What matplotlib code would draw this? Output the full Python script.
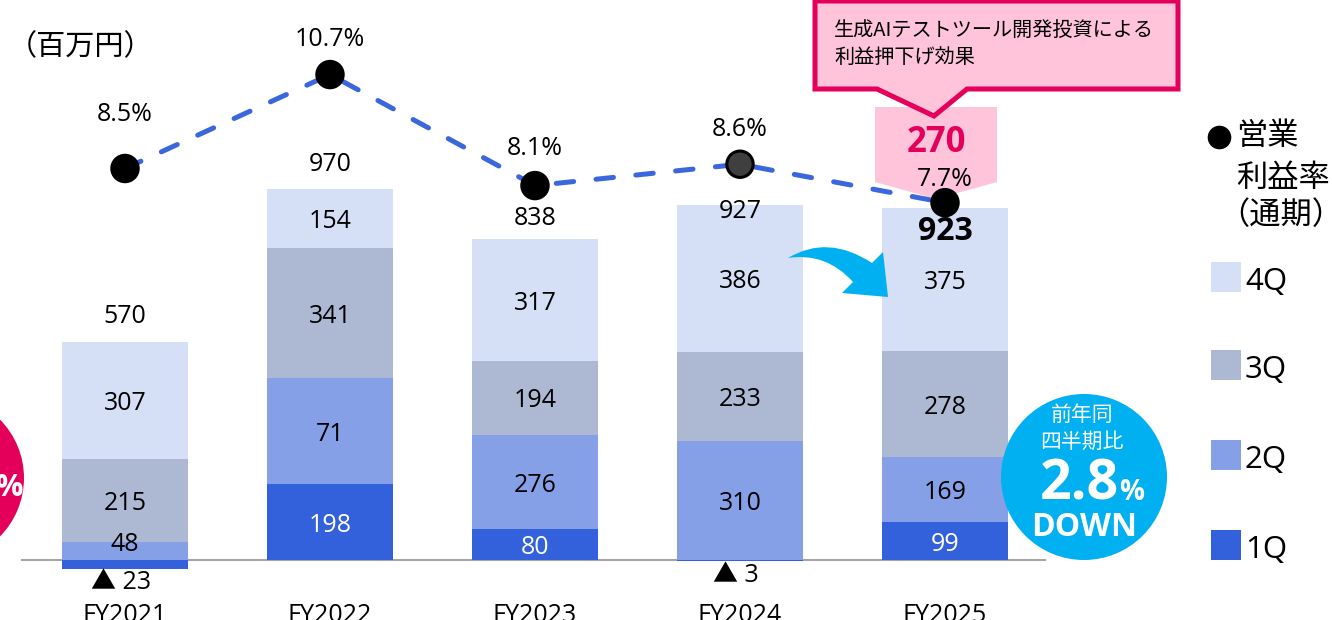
import matplotlib
matplotlib.use('Agg')
import matplotlib.pyplot as plt
from matplotlib.patches import Polygon, Circle, PathPatch, Rectangle
from matplotlib.path import Path
import numpy as np

plt.rcParams['font.family'] = ['Open Sans', 'Noto Sans CJK JP', 'DejaVu Sans']

# ---------------- data ----------------
years = ['FY2021', 'FY2022', 'FY2023', 'FY2024', 'FY2025']
q1 = [-23, 198, 80, -3, 99]
q2 = [48, 277, 247, 310, 169]
q3 = [215, 341, 194, 233, 278]
q4 = [307, 154, 317, 386, 375]
q1_labels = ['▲ 23', '198', '80', '▲ 3', '99']
q2_labels = ['48', '71', '276', '310', '169']
q3_labels = ['215', '341', '194', '233', '278']
q4_labels = ['307', '154', '317', '386', '375']
total_labels = ['570', '970', '838', '927', '923']
margin = [8.5, 10.7, 8.1, 8.6, 7.7]
margin_labels = ['8.5%', '10.7%', '8.1%', '8.6%', '7.7%']
legend_labels = ['4Q', '3Q', '2Q', '1Q']
unit_label = '（百万円）'
callout_text = '生成AIテストツール開発投資による\n利益押下げ効果'
callout_value = '270'
badge_lines = ['前年同', '四半期比']
badge_value = '2.8'
margin_legend = ['営業', '利益率', '（通期）']

# ---------------- style ----------------
C1, C2, C3, C4 = '#3361DC', '#86A0E8', '#ADB9D3', '#D5DFF6'
LINE_C = '#3A67DC'
PINK_FILL = '#FFC4DA'
CRIMSON = '#E4005A'
CYAN = '#00B0F0'
CJK = ['Noto Sans CJK JP', 'DejaVu Sans']

W, H = 1332, 620
PX = 0.3825          # pixels per unit (million yen)
PXM = 42.7           # pixels per % of margin
FS = 18
DN = 3 / PX          # small downward nudge for numeric labels (data units)

fig = plt.figure(figsize=(W / 100, H / 100), dpi=100)
ax = fig.add_axes([0, 0, 1, 1])
ax.set_xlim(-125 / 205, (W - 125) / 205)
ax.set_ylim(-60 / PX, 560 / PX)
ax.axis('off')
ax.set_zorder(1)

x = np.arange(len(years))
bw = 0.61
b2 = np.maximum(np.array(q1), 0)
b3 = b2 + np.array(q2)
b4 = b3 + np.array(q3)
top = b4 + np.array(q4)

ax.axhline(0, xmin=22 / W, xmax=1045 / W, color='#A6A6A6', lw=1.5, zorder=1)
ax.bar(x, q1, bw, color=C1, zorder=2)
ax.bar(x, q2, bw, bottom=b2, color=C2, zorder=2)
ax.bar(x, q3, bw, bottom=b3, color=C3, zorder=2)
ax.bar(x, q4, bw, bottom=b4, color=C4, zorder=2)

for i in range(len(years)):
    # 1Q
    if q1[i] < 0:
        ax.text(i - 4 / 205, q1[i] - 14 / PX, q1_labels[i], ha='center', va='center',
                fontsize=FS, color='black', zorder=4)
    else:
        ax.text(i, q1[i] / 2 - DN, q1_labels[i], ha='center', va='center',
                fontsize=FS, color='white', zorder=4)
    # 2Q
    h = q2[i]
    yy = b2[i] + h if h * PX < 25 else b2[i] + h / 2
    ax.text(i, yy - DN, q2_labels[i], ha='center', va='center', fontsize=FS, zorder=4)
    ax.text(i, b3[i] + q3[i] / 2 - DN, q3_labels[i], ha='center', va='center',
            fontsize=FS, zorder=4)
    ax.text(i, b4[i] + q4[i] / 2 - DN, q4_labels[i], ha='center', va='center',
            fontsize=FS, zorder=4)
    ax.text(i, (560 - 615) / PX, years[i], ha='center', va='center', fontsize=FS, zorder=4)

total_dy = [28, 27, 24, -4, -21]
for i in range(len(years)):
    bold = (i == len(years) - 1)
    ax.text(i, top[i] + total_dy[i] / PX - DN, total_labels[i], ha='center', va='center',
            fontsize=23 if bold else FS, fontweight='bold' if bold else 'normal', zorder=4)

# ---------------- under-overlay (pink block) ----------------
ovu = fig.add_axes([0, 0, 1, 1])
ovu.set_xlim(0, W); ovu.set_ylim(H, 0); ovu.axis('off')
ovu.set_zorder(2)
ovu.add_patch(Polygon([(875, 107), (997, 107), (997, 182), (936, 199), (875, 182)],
                      closed=True, facecolor=PINK_FILL, edgecolor='none'))
ovu.text(936, 143, callout_value, ha='center', va='center', fontsize=25,
         fontweight='bold', color=CRIMSON)

# ---------------- margin line ----------------
ax2 = ax.twinx()
ax2.set_ylim(8.5 - (H - 168.5) / PXM, 8.5 + 168.5 / PXM)
ax2.axis('off')
ax2.set_zorder(3)
ax2.plot(x, margin, color=LINE_C, lw=3.6, ls=(0, (3.5, 4.5)),
         dash_capstyle='round', zorder=5)
fills = ['black', 'black', 'black', '#3F3F3F', 'black']
ax2.scatter(x, margin, s=19 ** 2, c=fills, edgecolors='black', linewidths=2.2, zorder=6)
pct_dy = [54, 35, 37, 35, 23]
for i in range(len(years)):
    ax2.annotate(margin_labels[i], (i, margin[i]), xytext=(0, pct_dy[i] * 0.72),
                 textcoords='offset points', ha='center', va='center', fontsize=FS, zorder=7)

# ---------------- top overlay ----------------
ov = fig.add_axes([0, 0, 1, 1])
ov.set_xlim(0, W); ov.set_ylim(H, 0); ov.axis('off')
ov.set_zorder(4)

ov.text(8, 47, unit_label, ha='left', va='center', fontsize=21, family=CJK)

# callout
ov.add_patch(Polygon([(815, 1), (1178, 1), (1178, 89), (967, 89), (934, 116), (877, 89), (815, 89)],
                     closed=True, facecolor=PINK_FILL, edgecolor=CRIMSON, lw=3.6,
                     joinstyle='miter'))
ov.text(834, 44, callout_text, ha='left', va='center', fontsize=14.5, linespacing=1.35,
        family=CJK)

# curved cyan arrow
verts = [(788, 258), (828, 234), (872, 263), (883, 252), (888, 297), (842, 293),
         (853, 282), (826, 252), (788, 258), (788, 258)]
codes = [Path.MOVETO, Path.CURVE3, Path.CURVE3, Path.LINETO, Path.LINETO, Path.LINETO,
         Path.LINETO, Path.CURVE3, Path.CURVE3, Path.CLOSEPOLY]
ov.add_patch(PathPatch(Path(verts, codes), facecolor=CYAN, edgecolor='none'))

# blue badge
ov.add_patch(Circle((1084, 477), 83, facecolor=CYAN, edgecolor='none'))
ov.text(1082, 415, badge_lines[0], ha='center', va='center', fontsize=15, color='white',
        family=CJK)
ov.text(1082, 442, badge_lines[1], ha='center', va='center', fontsize=15, color='white',
        family=CJK)
ov.text(1119, 500, badge_value, ha='right', va='baseline', fontsize=40,
        fontweight='bold', color='white')
ov.text(1119, 500, '%', ha='left', va='baseline', fontsize=20,
        fontweight='bold', color='white')
ov.text(1084, 528, 'DOWN', ha='center', va='center', fontsize=23,
        fontweight='bold', color='white')

# pink badge (left, mostly cut off)
ov.add_patch(Circle((-59, 478), 83, facecolor=CRIMSON, edgecolor='none'))
ov.text(23, 488, '%', ha='right', va='center', fontsize=22, fontweight='bold', color='white')

# legend
ov.plot([1219], [137], 'o', ms=16, color='black')
ov.text(1236, 136, margin_legend[0], ha='left', va='center', fontsize=22.5, family=CJK)
ov.text(1236, 178, margin_legend[1], ha='left', va='center', fontsize=22.5, family=CJK)
ov.text(1218, 215, margin_legend[2], ha='left', va='center', fontsize=22.5, family=CJK)
for lab, col, cy in zip(legend_labels, [C4, C3, C2, C1], [277, 365, 455, 545]):
    ov.add_patch(Rectangle((1211, cy - 15), 30, 30, facecolor=col, edgecolor='none'))
    ov.text(1245, cy + 5, lab, ha='left', va='center', fontsize=22.5)

fig.savefig('out.png', dpi=100)
